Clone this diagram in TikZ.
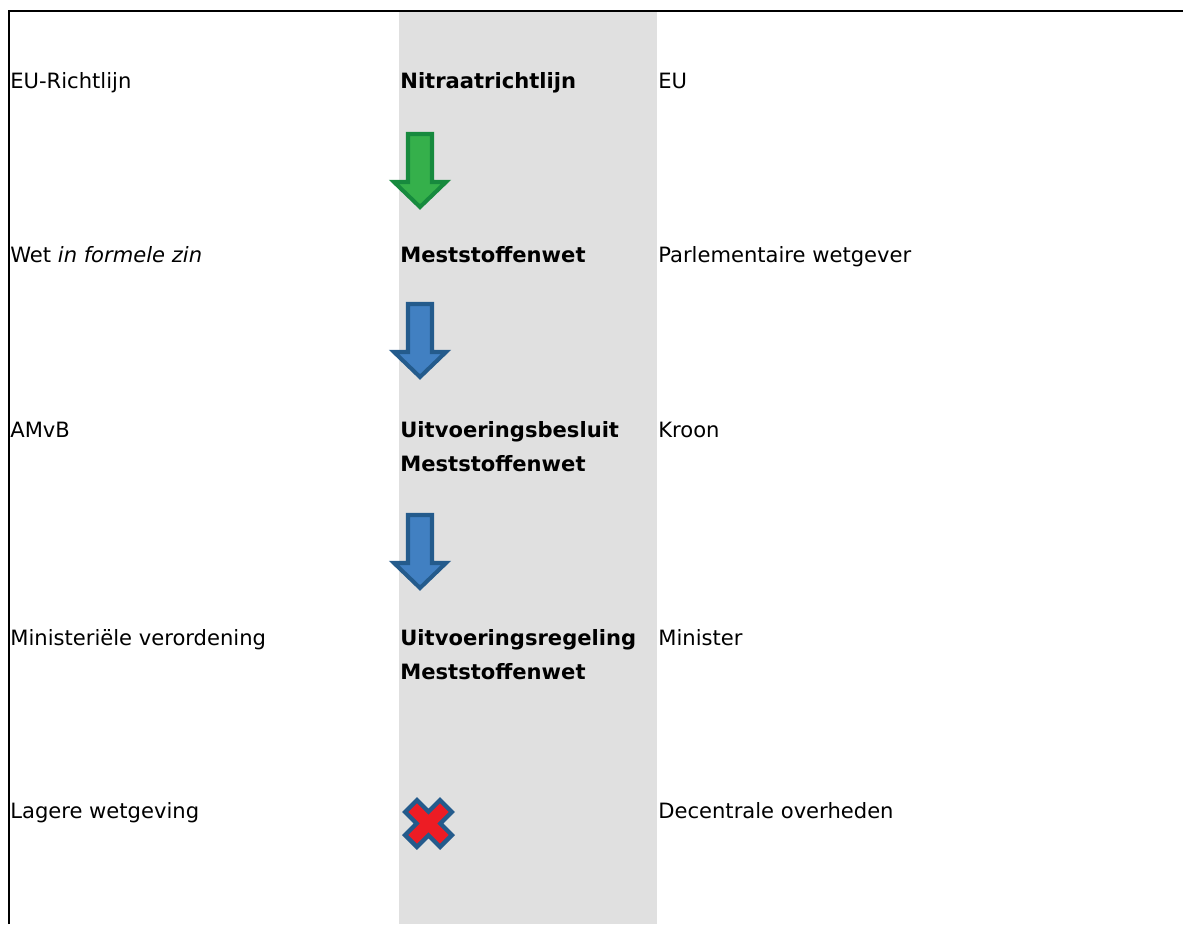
\documentclass[tikz,border=0pt]{standalone}
\usepackage{fontspec}
\setmainfont{DejaVu Sans}
\usetikzlibrary{calc}

\definecolor{column}{HTML}{E0E0E0}
\definecolor{arrowgreen}{HTML}{35B04B}
\definecolor{edgegreen}{HTML}{178A3E}
\definecolor{arrowblue}{HTML}{4180C2}
\definecolor{edgeblue}{HTML}{245B8C}
\definecolor{crossred}{HTML}{ED1C24}

\tikzset{
  txt/.style={anchor=base west, inner sep=0pt, font=\fontsize{12}{19.3}\selectfont, align=left},
  title/.style={txt, font=\fontsize{12}{19.3}\selectfont\bfseries},
}

\begin{document}
\begin{tikzpicture}[x=0.02cm, y=-0.02cm]% Mestwetgeving:
\useasboundingbox (0,0) rectangle (1183,924);

\fill[column] (399,12) rectangle (657,924);
\draw[line width=1.2pt] (9,924) -- (9,11) -- (1183,11);

% left column
\node[txt] (kind-eu) at (10,88) {EU-Richtlijn};
\node[txt] (kind-wet) at (10,262) {Wet \textit{in formele zin}};
\node[txt] (kind-amvb) at (10,437) {AMvB};
\node[txt] (kind-min) at (10,645) {Ministeriële verordening};
\node[txt] (kind-lager) at (10,818) {Lagere wetgeving};

% middle column (two-line nodes sit on the baseline of their last line)
\node[title] (title-eu) at (400,88) {Nitraatrichtlijn};
\node[title] (title-wet) at (400,262) {Meststoffenwet};
\node[title] (title-amvb) at (400,471) {Uitvoeringsbesluit\\Meststoffenwet};
\node[title] (title-min) at (400,679) {Uitvoeringsregeling\\Meststoffenwet};

% right column
\node[txt] (maker-eu) at (658,88) {EU};
\node[txt] (maker-wet) at (658,262) {Parlementaire wetgever};
\node[txt] (maker-amvb) at (658,437) {Kroon};
\node[txt] (maker-min) at (658,645) {Minister};
\node[txt] (maker-lager) at (658,818) {Decentrale overheden};

% arrows
\foreach \y/\f/\e in {132/arrowgreen/edgegreen, 302/arrowblue/edgeblue, 513/arrowblue/edgeblue}
    \draw[fill=\f, draw=\e, line width=2.3pt, line join=miter]
        (408,\y+2) -- (432,\y+2) -- (432,\y+50) -- (446,\y+50)
        -- (420,\y+75) -- (394,\y+50) -- (408,\y+50) -- cycle;

% cross
\draw[edgeblue, line width=12pt] (409.5,804.5) -- (447.5,842.5) (447.5,804.5) -- (409.5,842.5);
\draw[crossred, line width=7pt] (412.7,807.7) -- (444.3,839.3) (444.3,807.7) -- (412.7,839.3);

\end{tikzpicture}
\end{document}
